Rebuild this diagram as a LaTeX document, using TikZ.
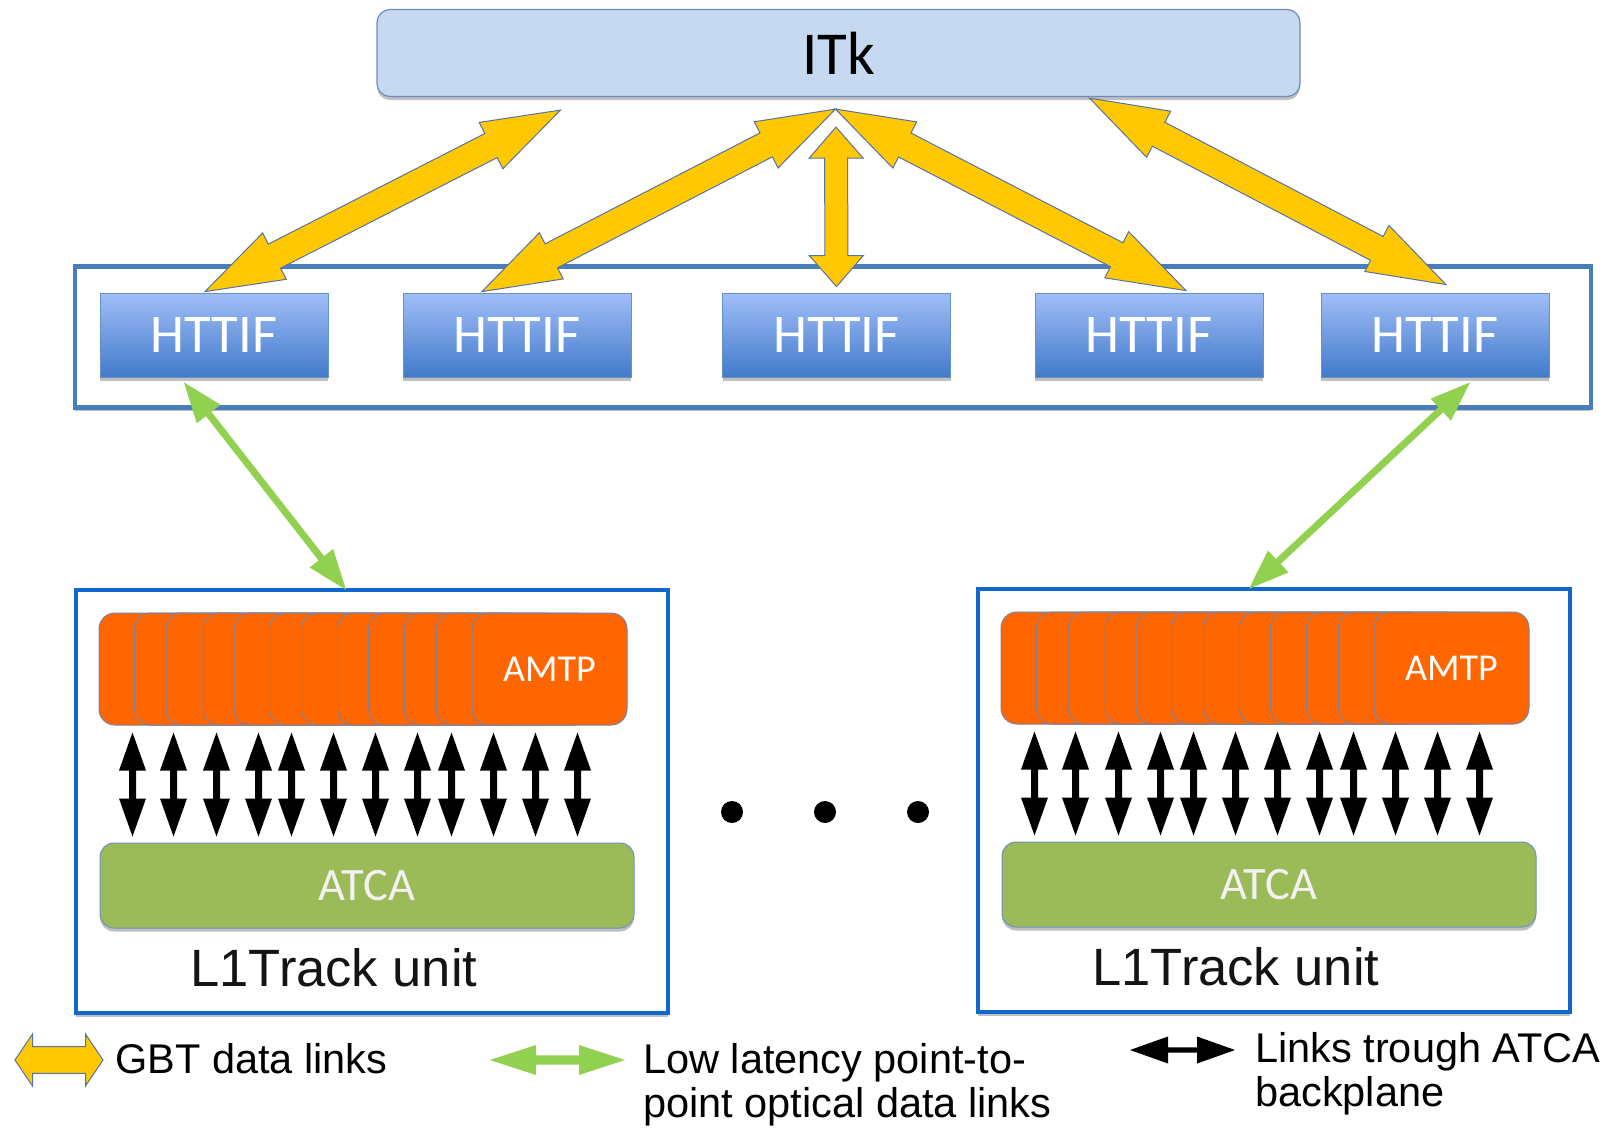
\documentclass[tikz,border=0pt]{standalone}
\usepackage{fontspec}
\setmainfont{Liberation Sans}
\newfontfamily\calfont{Carlito}
\usetikzlibrary{calc,shadows}

\definecolor{itkfill}{RGB}{198,217,241}
\definecolor{itkline}{RGB}{110,140,190}
\definecolor{busline}{RGB}{74,126,187}
\definecolor{httop}{RGB}{160,190,248}
\definecolor{htbot}{RGB}{66,122,202}
\definecolor{gbt}{RGB}{255,200,0}
\definecolor{gbtline}{RGB}{85,115,165}
\definecolor{optic}{RGB}{146,208,80}
\definecolor{unitline}{RGB}{16,104,204}
\definecolor{amtp}{RGB}{255,102,0}
\definecolor{amtpline}{RGB}{120,130,165}
\definecolor{atca}{RGB}{155,187,89}
\definecolor{atcaline}{RGB}{110,145,195}
\definecolor{labeltext}{RGB}{20,20,20}

% double-headed block arrow between two named points:
% #1 style, #2 from, #3 to, #4 shaft half width, #5 head half width, #6 head length
\newcommand\dblarrow[6]{%
  \path ($(#2)!#6!(#3)$) coordinate (dA) ($(#3)!#6!(#2)$) coordinate (dB);
  \path[#1] (#2) -- ($(dA)!#5!90:(#3)$) -- ($(dA)!#4!90:(#3)$)
    -- ($(dB)!#4!-90:(#2)$) -- ($(dB)!#5!-90:(#2)$) -- (#3)
    -- ($(dB)!#5!90:(#2)$) -- ($(dB)!#4!90:(#2)$)
    -- ($(dA)!#4!-90:(#3)$) -- ($(dA)!#5!-90:(#3)$) -- cycle;
}

\tikzset{
  boxshadow/.style={drop shadow={shadow xshift=0pt,shadow yshift=-3.5pt,fill=black!45,opacity=.55}},
  itkbox/.style={draw=itkline, line width=1.2pt, fill=itkfill, rounded corners=13pt,
    inner sep=0pt, boxshadow, font=\calfont\fontsize{61}{61}\selectfont},
  busbox/.style={draw=busline, line width=4.5pt, fill=white, inner sep=0pt, boxshadow},
  httif/.style={draw=busline!85, line width=0.8pt, top color=httop, bottom color=htbot,
    minimum width=228pt, minimum height=84pt, inner sep=0pt, text=white, boxshadow,
    font=\calfont\fontsize{54.5}{54.5}\selectfont},
  unitbox/.style={draw=unitline, line width=4.5pt, fill=white, inner sep=0pt, boxshadow},
  card/.style={draw=amtpline, line width=1pt, fill=amtp, rounded corners=16pt,
    minimum width=155pt, minimum height=112pt, inner sep=0pt, text=white,
    font=\calfont\fontsize{38}{38}\selectfont},
  atcabox/.style={draw=atcaline, line width=1pt, fill=atca, rounded corners=14pt,
    minimum width=534pt, minimum height=85pt, inner sep=0pt, text=white!95!black, boxshadow,
    font=\calfont\fontsize{46.5}{46.5}\selectfont},
  unitlabel/.style={inner sep=0pt, text=labeltext, font=\fontsize{52.5}{52.5}\selectfont},
  dot/.style={circle, fill=black, minimum size=22pt, inner sep=0pt},
  gbtarrow/.style={fill=gbt, draw=gbtline, line width=1pt},
  opticarrow/.style={fill=optic},
  linkarrow/.style={fill=black},
  legtext/.style={anchor=base west, inner sep=0pt, text=black, font=\fontsize{41.5}{44}\selectfont}
}

\begin{document}
\begin{tikzpicture}[x=1pt,y=-1pt]
\useasboundingbox (0,0) rectangle (1606,1127);
\fill[white] (0,0) rectangle (1606,1127);

% top detector block
\node[itkbox, minimum width=923pt, minimum height=87pt] (itk) at (838.5,53) {ITk};

% interface crate with the five HTTIF boards
\node[busbox, minimum width=1516pt, minimum height=141pt] (bus) at (833,337) {};
\foreach \i/\x in {1/214,2/517,3/836.5,4/1149,5/1435}
  \node[httif] (h\i) at (\x,335) {HTTIF};

% GBT links between ITk and the HTTIF boards
\coordinate (g1a) at ($(h1.north)+(-9,-1)$);
\coordinate (g1b) at ($(itk.south)+(-278,13)$);
\coordinate (g2a) at ($(h2.north)+(-35,-1)$);
\coordinate (hub) at ($(itk.south)+(-3,12)$);
\coordinate (g3a) at ($(h3.north)+(0,-6)$);
\coordinate (g3b) at ($(itk.south)+(-2.5,30)$);
\coordinate (g4a) at ($(h4.north)+(37,-2)$);
\coordinate (g5a) at ($(h5.north)+(11,-8)$);
\coordinate (g5b) at ($(itk.south)+(251,1)$);
\dblarrow{gbtarrow}{g1a}{g1b}{13.5pt}{26pt}{78pt}
\dblarrow{gbtarrow}{g2a}{hub}{13.5pt}{26pt}{78pt}
\dblarrow{gbtarrow}{g3a}{g3b}{11.5pt}{27pt}{31pt}
\dblarrow{gbtarrow}{g4a}{hub}{13.5pt}{26pt}{78pt}
\dblarrow{gbtarrow}{g5a}{g5b}{13.5pt}{26pt}{78pt}

% two L1Track units
\foreach \u/\dx/\dy in {1/0/0,2/902/-1}{
  \begin{scope}[shift={(\dx,\dy)}]
    \node[unitbox, minimum width=592pt, minimum height=423pt] (u\u) at (372,801.5) {};
    \foreach \k/\off in {1/0,2/35.5,3/67,4/104,5/135,6/170.5,7/202.5,8/238.5,9/269.5,10/305.5,11/337.5}
      \node[card] (c\u-\k) at (176.5+\off,669) {};
    \node[card] (c\u-12) at (549.5,669) {AMTP};
    \node[atcabox] (atca\u) at (367,885.5) {ATCA};
    \foreach \j/\xx in {1/133,2/174,3/217,4/259,5/292,6/334,7/376,8/418,9/452,10/494,11/536,12/578}{
      \coordinate (bt\u-\j) at ($(atca\u.north west)+(\xx-100,-110)$);
      \coordinate (bb\u-\j) at ($(atca\u.north west)+(\xx-100,-6)$);
      \dblarrow{linkarrow}{bt\u-\j}{bb\u-\j}{3.5pt}{13.5pt}{38pt}
    }
    \node[unitlabel] (lab\u) at (334,968) {L1Track unit};
  \end{scope}
}

% low latency optical links
\coordinate (o1a) at ($(h1.south)+(-30,5)$);
\coordinate (o1b) at ($(u1.north)+(-26,2)$);
\coordinate (o2a) at ($(h5.south)+(35,5)$);
\coordinate (o2b) at ($(u2.north)+(-25,2)$);
\dblarrow{opticarrow}{o1a}{o1b}{3.5pt}{15pt}{40pt}
\dblarrow{opticarrow}{o2a}{o2b}{3.5pt}{15pt}{40pt}

% ellipsis between the units
\foreach \i/\x in {1/732,2/825,3/918}
  \node[dot] (dot\i) at (\x,812) {};

% legend
\coordinate (lg1a) at (15,1060);
\coordinate (lg1b) at (103,1060);
\dblarrow{gbtarrow}{lg1a}{lg1b}{13.3pt}{26pt}{17.5pt}
\node[legtext] (leg1) at (115,1073) {GBT data links};

\coordinate (lg2a) at (490,1060);
\coordinate (lg2b) at (625,1060);
\dblarrow{opticarrow}{lg2a}{lg2b}{4.7pt}{15pt}{46pt}
\node[legtext] (leg2) at (643,1073) {Low latency point-to-};
\node[legtext] (leg2b) at (643,1117) {point optical data links};

\coordinate (lg3a) at (1130,1050);
\coordinate (lg3b) at (1235,1050);
\dblarrow{linkarrow}{lg3a}{lg3b}{2.7pt}{13.5pt}{38pt}
\node[legtext] (leg3) at (1255,1062) {Links trough ATCA};
\node[legtext] (leg3b) at (1255,1106) {backplane};
\end{tikzpicture}
\end{document}
